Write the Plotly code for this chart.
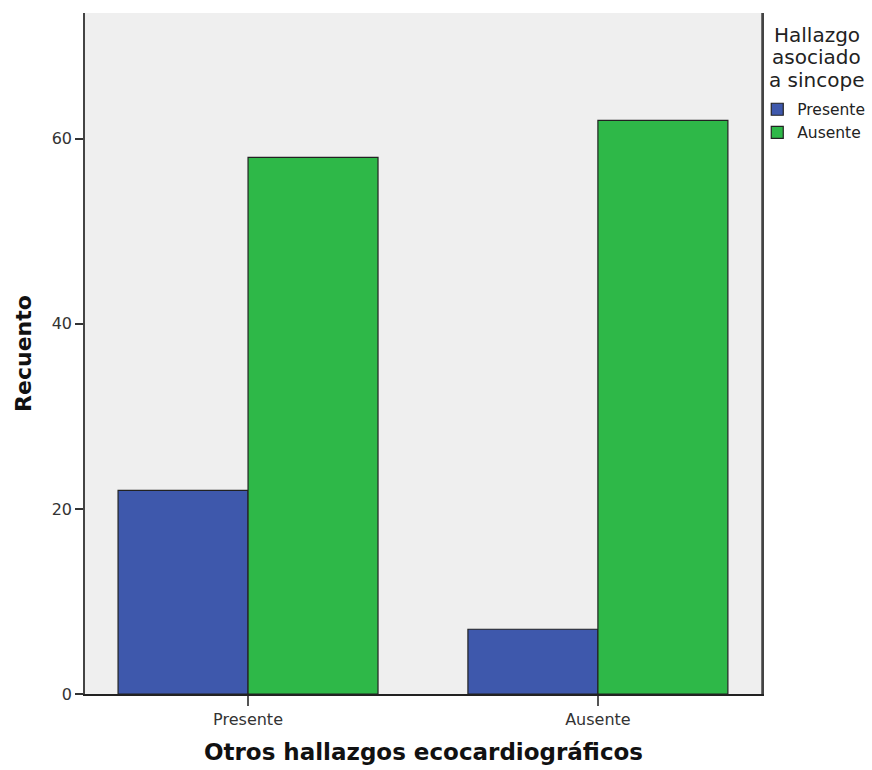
import plotly.graph_objects as go

categories = ["Presente", "Ausente"]
presente_vals = [22, 7]
ausente_vals = [58, 62]
series_names = ["Presente", "Ausente"]
y_ticks = [0, 20, 40, 60]
legend_title_lines = ["Hallazgo", "asociado", "a sincope"]

FONT = "DejaVu Sans"
fig = go.Figure()
fig.add_trace(go.Bar(x=categories, y=presente_vals, name=series_names[0],
                     marker=dict(color="#3e58ac", line=dict(color="#222222", width=1.2))))
fig.add_trace(go.Bar(x=categories, y=ausente_vals, name=series_names[1],
                     marker=dict(color="#2eb848", line=dict(color="#222222", width=1.2))))

title_y = [0.968, 0.935, 0.902]
annots = [dict(text=t, xref="paper", yref="paper", x=1.081, y=yy, xanchor="center",
               yanchor="middle", showarrow=False,
               font=dict(size=20, family=FONT, color="#222222"))
          for t, yy in zip(legend_title_lines, title_y)]

fig.update_layout(
    width=872, height=770,
    margin=dict(l=85, r=110, t=13, b=76, autoexpand=False),
    paper_bgcolor="white", plot_bgcolor="#efefef",
    barmode="group", bargap=0.257, bargroupgap=0,
    font=dict(family=FONT, color="#222222"),
    showlegend=True,
    legend=dict(x=0.993, y=0.883, xanchor="left", yanchor="top",
                font=dict(size=15.5, family=FONT, color="#222222"),
                itemwidth=30, tracegroupgap=0, bgcolor="rgba(0,0,0,0)"),
    xaxis=dict(type="category", range=[-0.466, 1.469],
               showline=True, linecolor="#222222", linewidth=1.5, mirror=False,
               ticks="outside", ticklen=10, tickcolor="#555555", tickwidth=1.5,
               tickfont=dict(size=16, family=FONT, color="#333333"),
               title=dict(text="<b>Otros hallazgos ecocardiográficos</b>",
                          font=dict(size=23, family=FONT, color="#111111"), standoff=16),
               showgrid=False, zeroline=False),
    yaxis=dict(range=[0, 73.6], tickvals=y_ticks,
               showline=True, linecolor="#444444", linewidth=1.5, mirror=True,
               ticks="outside", ticklen=8, tickcolor="#333333", tickwidth=1.5,
               tickfont=dict(size=16, family=FONT, color="#333333"),
               title=dict(text="<b>Recuento</b>",
                          font=dict(size=22, family=FONT, color="#111111"), standoff=14),
               showgrid=False, zeroline=False),
    annotations=annots,
    shapes=[dict(type="line", xref="paper", yref="paper", x0=1, x1=1, y0=0, y1=1,
                 line=dict(color="#444444", width=1.5))],
)

fig.write_html("out.html", config={"displayModeBar": False},
               post_script="document.body.style.margin='0';document.body.style.overflow='hidden';")
